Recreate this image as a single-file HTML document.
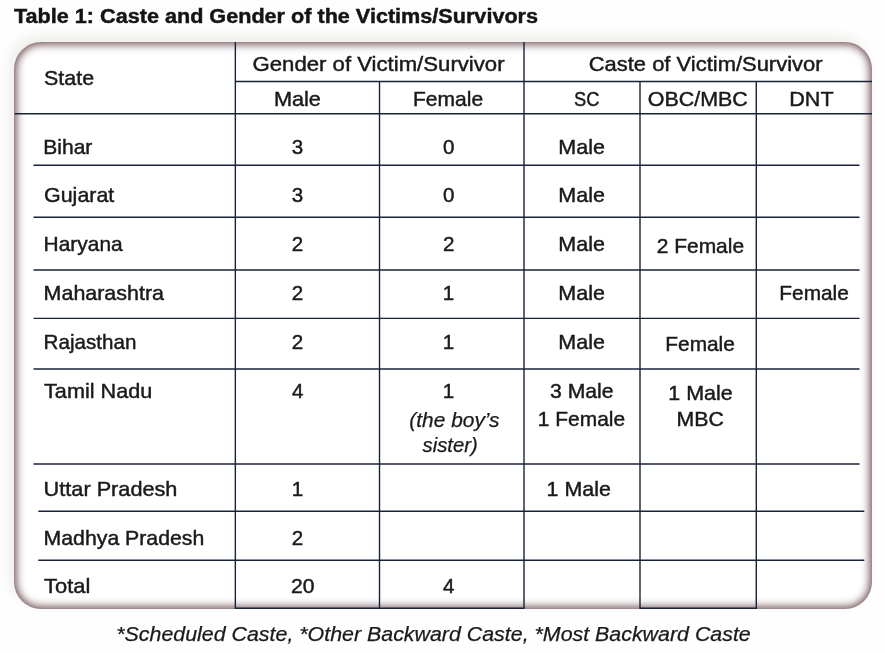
<!DOCTYPE html>
<html lang="en">
<head>
<meta charset="utf-8">
<title>Table 1: Caste and Gender of the Victims/Survivors</title>
<style>
html,body{margin:0;padding:0;}
body{width:885px;height:653px;overflow:hidden;background:#fefefe;position:relative;font-family:"Liberation Sans",Arial,sans-serif;color:#1a1a1a;}
#box{position:absolute;left:14.3px;top:41.8px;width:857.8px;height:567px;box-sizing:border-box;border-radius:27px;background:#fff;
 box-shadow:inset 0 0 9px 2.2px rgba(105,72,76,0.98), -5px -6px 11px 0px rgba(110,110,80,0.11);}
svg{position:absolute;left:0;top:0;}
text{font-family:"Liberation Sans",Arial,sans-serif;font-size:20.6px;fill:#1a1a1a;stroke:#1a1a1a;stroke-width:0.45px;}
text.b{font-weight:bold;font-size:20.3px;fill:#141414;stroke:#141414;stroke-width:0.45px;}
text.i{font-style:italic;font-size:19.4px;stroke-width:0.25px;}
line{stroke:#182238;stroke-width:1.4;}
</style>
</head>
<body>
<div id="box"></div>
<svg width="885" height="653" viewBox="0 0 885 653">
<g>
<line x1="235" y1="81.45" x2="872" y2="81.45"/>
<line x1="14.5" y1="113.7" x2="872" y2="113.7"/>
<line x1="33.5" y1="165.3" x2="859.5" y2="165.3"/>
<line x1="33.5" y1="217.3" x2="859.5" y2="217.3"/>
<line x1="33.5" y1="270" x2="859.5" y2="270"/>
<line x1="33.5" y1="318.4" x2="859.5" y2="318.4"/>
<line x1="33.5" y1="369" x2="859.5" y2="369"/>
<line x1="33.5" y1="464" x2="859.5" y2="464"/>
<line x1="38.3" y1="511.3" x2="864.3" y2="511.3"/>
<line x1="38.3" y1="560.2" x2="864.3" y2="560.2"/>
<line x1="235" y1="608.3" x2="524" y2="608.3"/>
<line x1="640" y1="608.3" x2="756.3" y2="608.3"/>
<line x1="235.35" y1="42" x2="235.35" y2="609"/>
<line x1="379.5" y1="81.45" x2="379.5" y2="609"/>
<line x1="524" y1="42" x2="524" y2="609"/>
<line x1="640" y1="81.45" x2="640" y2="609"/>
<line x1="756.3" y1="81.45" x2="756.3" y2="609"/>
</g>
<g>
<text class="b" x="14.0" y="22.6" textLength="524.05" lengthAdjust="spacingAndGlyphs">Table 1: Caste and Gender of the Victims/Survivors</text>
<text x="44.05" y="84.6" textLength="50.05" lengthAdjust="spacingAndGlyphs">State</text>
<text x="252.5" y="71.3" textLength="252.05" lengthAdjust="spacingAndGlyphs">Gender of Victim/Survivor</text>
<text x="588.7" y="71.3" textLength="233.86" lengthAdjust="spacingAndGlyphs">Caste of Victim/Survivor</text>
<text x="273.9" y="106.1" textLength="47.05" lengthAdjust="spacingAndGlyphs">Male</text>
<text x="413.0" y="106.1" textLength="70.13" lengthAdjust="spacingAndGlyphs">Female</text>
<text x="574.05" y="106.1" textLength="25.41" lengthAdjust="spacingAndGlyphs">SC</text>
<text x="647.85" y="106.1" textLength="99.97" lengthAdjust="spacingAndGlyphs">OBC/MBC</text>
<text x="789.3" y="106.1" textLength="44.33" lengthAdjust="spacingAndGlyphs">DNT</text>
<text x="43.3" y="153.6" textLength="49.05" lengthAdjust="spacingAndGlyphs">Bihar</text>
<text x="291.8" y="153.6">3</text>
<text x="442.92" y="153.6">0</text>
<text x="558.3" y="153.6" textLength="46.57" lengthAdjust="spacingAndGlyphs">Male</text>
<text x="44.05" y="202.1" textLength="70.26" lengthAdjust="spacingAndGlyphs">Gujarat</text>
<text x="291.8" y="202.1">3</text>
<text x="442.92" y="202.1">0</text>
<text x="558.3" y="202.1" textLength="46.57" lengthAdjust="spacingAndGlyphs">Male</text>
<text x="43.6" y="251.3" textLength="79.07" lengthAdjust="spacingAndGlyphs">Haryana</text>
<text x="291.8" y="251.3">2</text>
<text x="443.05" y="251.3">2</text>
<text x="558.3" y="251.3" textLength="46.57" lengthAdjust="spacingAndGlyphs">Male</text>
<text x="656.75" y="252.7" textLength="87.33" lengthAdjust="spacingAndGlyphs">2 Female</text>
<text x="43.6" y="300.0" textLength="120.36" lengthAdjust="spacingAndGlyphs">Maharashtra</text>
<text x="291.8" y="300.0">2</text>
<text x="442.68" y="300.0">1</text>
<text x="558.3" y="300.0" textLength="46.57" lengthAdjust="spacingAndGlyphs">Male</text>
<text x="779.3" y="300.0" textLength="69.56" lengthAdjust="spacingAndGlyphs">Female</text>
<text x="43.6" y="349.3" textLength="92.77" lengthAdjust="spacingAndGlyphs">Rajasthan</text>
<text x="291.8" y="349.3">2</text>
<text x="442.68" y="349.3">1</text>
<text x="558.3" y="349.3" textLength="46.57" lengthAdjust="spacingAndGlyphs">Male</text>
<text x="665.3" y="350.7" textLength="69.56" lengthAdjust="spacingAndGlyphs">Female</text>
<text x="44.05" y="398.0" textLength="108.22" lengthAdjust="spacingAndGlyphs">Tamil Nadu</text>
<text x="292.05" y="398.0">4</text>
<text x="442.68" y="398.0">1</text>
<text class="i" x="409.35" y="427.1" textLength="90.21" lengthAdjust="spacingAndGlyphs">(the boy’s</text>
<text class="i" x="422.5" y="452.0" textLength="55.22" lengthAdjust="spacingAndGlyphs">sister)</text>
<text x="550.0" y="398.3" textLength="63.48" lengthAdjust="spacingAndGlyphs">3 Male</text>
<text x="537.85" y="425.5" textLength="87.25" lengthAdjust="spacingAndGlyphs">1 Female</text>
<text x="668.3" y="399.7" textLength="64.27" lengthAdjust="spacingAndGlyphs">1 Male</text>
<text x="676.6" y="426.3" textLength="47.29" lengthAdjust="spacingAndGlyphs">MBC</text>
<text x="43.6" y="495.7" textLength="133.85" lengthAdjust="spacingAndGlyphs">Uttar Pradesh</text>
<text x="291.68" y="495.7">1</text>
<text x="546.6" y="495.7" textLength="64.23" lengthAdjust="spacingAndGlyphs">1 Male</text>
<text x="43.6" y="545.0" textLength="160.7" lengthAdjust="spacingAndGlyphs">Madhya Pradesh</text>
<text x="291.8" y="545.0">2</text>
<text x="44.05" y="593.0" textLength="46.25" lengthAdjust="spacingAndGlyphs">Total</text>
<text x="291.05" y="593.0" textLength="23.52" lengthAdjust="spacingAndGlyphs">20</text>
<text x="443.05" y="592.5">4</text>
<text class="i" x="116.25" y="640.8" textLength="634.51" lengthAdjust="spacingAndGlyphs">*Scheduled Caste, *Other Backward Caste, *Most Backward Caste</text>
</g>
</svg>
</body>
</html>
